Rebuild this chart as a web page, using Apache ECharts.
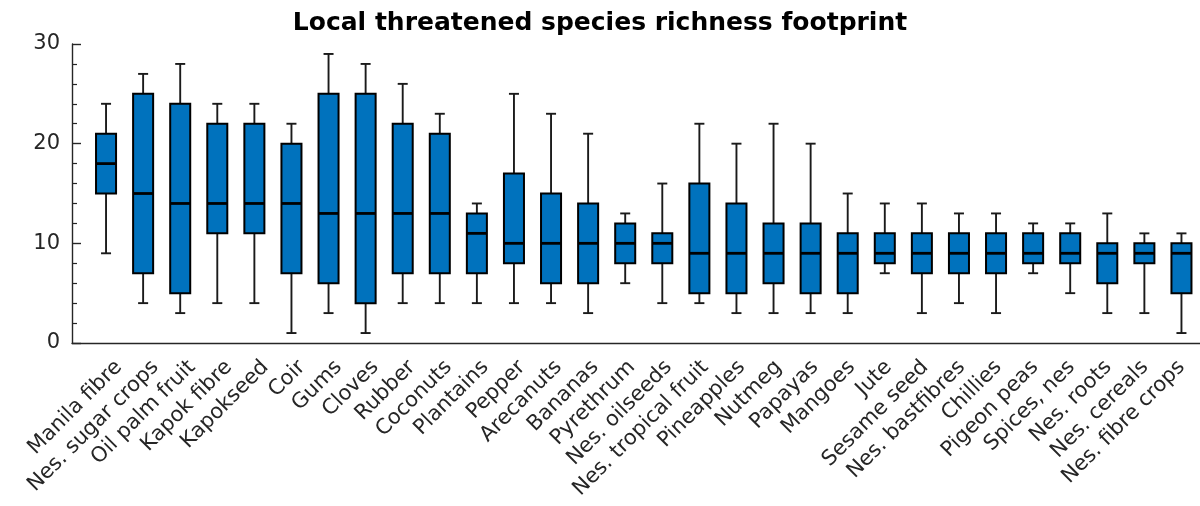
<!DOCTYPE html>
<html>
<head>
<meta charset="utf-8">
<style>
  html, body { margin: 0; padding: 0; background: #ffffff; }
  #chart { width: 1200px; height: 506px; }
</style>
<script src="https://cdn.jsdelivr.net/npm/echarts@6/dist/echarts.min.js"></script>
</head>
<body>
<div id="chart"></div>
<script>
// Crop categories, in plotted order
const crops = [
  'Manila fibre', 'Nes. sugar crops', 'Oil palm fruit', 'Kapok fibre', 'Kapokseed',
  'Coir', 'Gums', 'Cloves', 'Rubber', 'Coconuts',
  'Plantains', 'Pepper', 'Arecanuts', 'Bananas', 'Pyrethrum',
  'Nes. oilseeds', 'Nes. tropical fruit', 'Pineapples', 'Nutmeg', 'Papayas',
  'Mangoes', 'Jute', 'Sesame seed', 'Nes. bastfibres', 'Chillies',
  'Pigeon peas', 'Spices, nes', 'Nes. roots', 'Nes. cereals', 'Nes. fibre crops'
];

// Five-number summaries per crop
const whiskerLow  = [9, 4, 3, 4, 4, 1, 3, 1, 4, 4, 4, 4, 4, 3, 6, 4, 4, 3, 3, 3, 3, 7, 3, 4, 3, 7, 5, 3, 3, 1];
const quartile1   = [15, 7, 5, 11, 11, 7, 6, 4, 7, 7, 7, 8, 6, 6, 8, 8, 5, 5, 6, 5, 5, 8, 7, 7, 7, 8, 8, 6, 8, 5];
const medians     = [18, 15, 14, 14, 14, 14, 13, 13, 13, 13, 11, 10, 10, 10, 10, 10, 9, 9, 9, 9, 9, 9, 9, 9, 9, 9, 9, 9, 9, 9];
const quartile3   = [21, 25, 24, 22, 22, 20, 25, 25, 22, 21, 13, 17, 15, 14, 12, 11, 16, 14, 12, 12, 11, 11, 11, 11, 11, 11, 11, 10, 10, 10];
const whiskerHigh = [24, 27, 28, 24, 24, 22, 29, 28, 26, 23, 14, 25, 23, 21, 13, 16, 22, 20, 22, 20, 15, 14, 14, 13, 13, 12, 12, 13, 11, 11];

// y-axis ticks
const yTicks = [0, 10, 20, 30];

const titleText = 'Local threatened species richness footprint';

const boxRows = crops.map((c, i) => [i, whiskerLow[i], quartile1[i], medians[i], quartile3[i], whiskerHigh[i]]);

const inkColor = '#262626';
const boxFill = '#0072BD';
const font = 'DejaVu Sans';

const plotTop = 44;
const plotBottom = 163;

// One box-and-whisker glyph per crop, placed through the axes' scales
function renderBox(params, api) {
  const idx = api.value(0);
  const lo = api.coord([idx, api.value(1)]);
  const q1 = api.coord([idx, api.value(2)]);
  const md = api.coord([idx, api.value(3)]);
  const q3 = api.coord([idx, api.value(4)]);
  const hi = api.coord([idx, api.value(5)]);
  const band = api.size([1, 0])[0];
  const bw = band * 0.54;
  const cw = band * 0.27;
  const x = lo[0];
  const wStyle = { stroke: '#1a1a1a', lineWidth: 1.9 };
  return {
    type: 'group',
    children: [
      { type: 'line', shape: { x1: x, y1: hi[1], x2: x, y2: q3[1] }, style: wStyle },
      { type: 'line', shape: { x1: x, y1: q1[1], x2: x, y2: lo[1] }, style: wStyle },
      { type: 'line', shape: { x1: x - cw / 2, y1: hi[1], x2: x + cw / 2, y2: hi[1] }, style: wStyle },
      { type: 'line', shape: { x1: x - cw / 2, y1: lo[1], x2: x + cw / 2, y2: lo[1] }, style: wStyle },
      {
        type: 'rect',
        shape: { x: x - bw / 2, y: q3[1], width: bw, height: q1[1] - q3[1] },
        style: { fill: boxFill, stroke: '#000000', lineWidth: 2 }
      },
      { type: 'line', shape: { x1: x - bw / 2, y1: md[1], x2: x + bw / 2, y2: md[1] },
        style: { stroke: '#000000', lineWidth: 2.8 } }
    ]
  };
}

const chart = echarts.init(document.getElementById('chart'), null, { renderer: 'canvas' });

chart.setOption({
  backgroundColor: '#ffffff',
  animation: false,
  title: {
    text: titleText,
    left: 'center',
    top: 6,
    textStyle: { fontFamily: font, fontWeight: 'bold', fontSize: 25, color: '#000000' }
  },
  grid: [
    // boxes
    { left: 87.5, right: 0, top: plotTop, bottom: plotBottom, containLabel: false },
    // axis frame
    { left: 72, right: 0, top: plotTop, bottom: plotBottom, containLabel: false },
    // category labels, anchored a little right of each box
    { left: 87.5 + 13, right: -13, top: plotTop, bottom: plotBottom, containLabel: false }
  ],
  xAxis: [
    {
      gridIndex: 0, type: 'category', data: crops, boundaryGap: true,
      axisLine: { show: false }, axisTick: { show: false }, axisLabel: { show: false },
      splitLine: { show: false }
    },
    {
      gridIndex: 1, type: 'value', min: 0, max: 1,
      axisLine: { show: true, onZero: false, lineStyle: { color: inkColor, width: 1.4 } },
      axisTick: { show: false }, axisLabel: { show: false }, splitLine: { show: false }
    },
    {
      gridIndex: 2, type: 'category', data: crops, boundaryGap: true,
      axisLine: { show: false }, axisTick: { show: false }, splitLine: { show: false },
      axisLabel: {
        show: true, interval: 0, rotate: 45, margin: 21, hideOverlap: false,
        fontFamily: font, fontSize: 21, color: inkColor
      }
    }
  ],
  yAxis: [
    {
      gridIndex: 0, type: 'value', min: 0, max: 30, show: false
    },
    {
      gridIndex: 1, type: 'value', min: yTicks[0], max: yTicks[yTicks.length - 1], interval: 10,
      axisLine: { show: true, lineStyle: { color: inkColor, width: 1.4 } },
      axisTick: { show: true, inside: true, length: 9, lineStyle: { color: inkColor, width: 1.4 } },
      minorTick: { show: true, splitNumber: 5, length: 5, lineStyle: { color: inkColor, width: 1.2 } },
      splitLine: { show: false },
      axisLabel: { margin: 12, fontFamily: font, fontSize: 21, color: inkColor }
    },
    {
      gridIndex: 2, type: 'value', min: 0, max: 30, show: false
    }
  ],
  series: [
    {
      type: 'custom',
      xAxisIndex: 0,
      yAxisIndex: 0,
      data: boxRows,
      encode: { x: 0, y: [1, 2, 3, 4, 5] },
      renderItem: renderBox,
      clip: false
    }
  ]
});
</script>
</body>
</html>
